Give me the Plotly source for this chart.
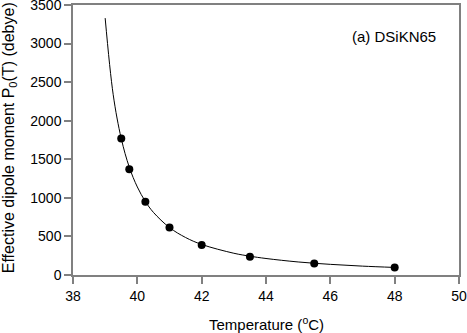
import plotly.graph_objects as go

# measured points
temp_pts = [39.5, 39.75, 40.25, 41.0, 42.0, 43.5, 45.5, 48.0]
p0_pts = [1769, 1372, 949, 616, 388, 237, 150, 98]

# fitted curve
temp_curve = [39.0, 39.25, 39.5, 39.75, 40.0, 40.25, 40.5, 41.0, 41.5, 42.0, 43.0, 43.5, 44.0, 45.0, 46.0, 47.0, 48.0]
p0_curve = [3330, 2337, 1769, 1398, 1141, 953, 812, 615, 486, 396, 282, 244, 214, 169, 138, 115, 98]

x_ticks = [38, 40, 42, 44, 46, 48, 50]
y_ticks = [0, 500, 1000, 1500, 2000, 2500, 3000, 3500]

font = "Liberation Sans, Arial, sans-serif"
axis_col = "#808080"

fig = go.Figure()
fig.add_trace(go.Scatter(x=temp_curve, y=p0_curve, mode="lines", line=dict(color="black", width=1, shape="spline"),
                         hoverinfo="skip"))
fig.add_trace(go.Scatter(x=temp_pts, y=p0_pts, mode="markers", marker=dict(color="black", size=8)))

fig.update_layout(
    width=467, height=333,
    margin=dict(l=73, r=8, t=5, b=58),
    paper_bgcolor="white", plot_bgcolor="white",
    showlegend=False,
    font=dict(family=font, color="black", size=14),
    xaxis=dict(range=[38, 50], tickvals=x_ticks, ticks="outside", ticklen=7, tickcolor=axis_col, tickwidth=1.5,
               showline=True, linecolor=axis_col, linewidth=1.5, mirror=True, showgrid=False, zeroline=False,
               automargin=False, tickfont=dict(size=14), ticklabeloverflow="allow"),
    yaxis=dict(range=[0, 3500], tickvals=y_ticks, ticks="outside", ticklen=7, tickcolor=axis_col, tickwidth=1.5,
               showline=True, linecolor=axis_col, linewidth=1.5, mirror=True, showgrid=False, zeroline=False,
               automargin=False, tickfont=dict(size=14), ticklabeloverflow="allow"),
    annotations=[
        dict(x=0.945, y=0.883, xref="paper", yref="paper", xanchor="right", yanchor="middle",
             text="(a) DSiKN65", showarrow=False, font=dict(size=15, family=font)),
        dict(x=0.5, y=-0.180, xref="paper", yref="paper", xanchor="center", yanchor="middle",
             text="Temperature (<sup>o</sup>C)", showarrow=False, font=dict(size=15, family=font)),
        dict(x=-0.166, y=0.51, xref="paper", yref="paper", xanchor="center", yanchor="middle", textangle=-90,
             text="Effective dipole moment P<sub>0</sub>(T) (debye)", showarrow=False, font=dict(size=16, family=font)),
    ],
)

fig.write_html("out.html", config={"displayModeBar": False},
               post_script="document.body.style.margin='0';document.body.style.padding='0';")
